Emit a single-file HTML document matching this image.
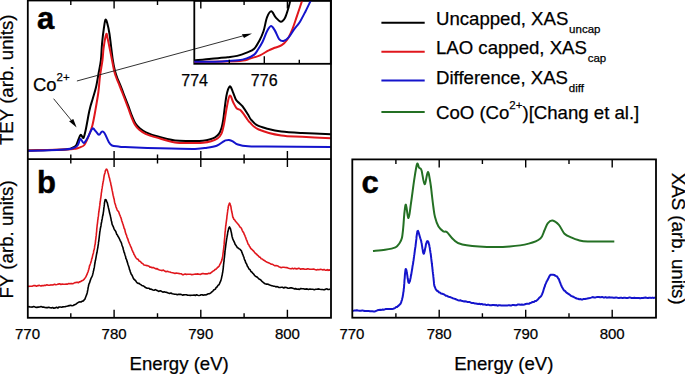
<!DOCTYPE html>
<html><head><meta charset="utf-8"><style>
html,body{margin:0;padding:0;background:#fff;width:685px;height:374px;overflow:hidden}
svg{display:block}
text{font-family:"Liberation Sans",sans-serif;fill:#000;stroke:#000;stroke-width:0.25px}
</style></head><body>
<svg width="685" height="374" viewBox="0 0 685 374">
<rect width="685" height="374" fill="#fff"/>
<defs><clipPath id="ca"><rect x="28" y="0" width="302.8" height="158.8"/></clipPath>
<clipPath id="ci"><rect x="194.3" y="0.8" width="136.5" height="63"/></clipPath>
<clipPath id="cb"><rect x="28" y="158.8" width="302.8" height="158.6"/></clipPath></defs>
<g fill="none" stroke-linejoin="round" stroke-linecap="round" clip-path="url(#ca)">
<path d="M28.0 150.5 C34.2 150.3 57.7 149.8 65.0 149.4 C72.3 149.0 70.2 148.7 72.0 148.0 C73.8 147.3 75.0 146.8 76.0 145.5 C77.0 144.2 77.5 141.8 78.3 140.0 C79.0 138.2 79.8 135.6 80.5 135.0 C81.2 134.4 81.7 136.2 82.2 136.6 C82.7 137.0 83.1 138.8 83.7 137.5 C84.3 136.2 85.1 132.8 85.9 129.0 C86.7 125.2 87.8 118.8 88.5 115.0 C89.2 111.2 89.7 109.2 90.4 106.5 C91.1 103.8 91.9 101.7 92.8 98.5 C93.7 95.3 95.1 91.3 96.0 87.3 C96.9 83.3 97.6 79.0 98.4 74.4 C99.2 69.9 100.3 65.1 100.9 60.0 C101.5 54.9 101.5 49.3 102.0 44.0 C102.5 38.7 103.3 32.0 103.9 28.0 C104.5 24.0 104.9 20.6 105.4 19.8 C106.0 19.0 106.5 20.6 107.2 23.0 C107.9 25.4 108.6 27.8 109.5 34.0 C110.4 40.2 111.9 53.8 112.8 60.0 C113.7 66.2 114.2 67.9 115.0 71.0 C115.8 74.1 116.6 76.2 117.5 78.5 C118.4 80.8 119.0 82.1 120.2 85.0 C121.4 87.9 123.1 92.4 124.5 96.0 C125.9 99.6 127.2 103.1 128.5 106.4 C129.8 109.7 130.8 113.2 132.0 116.0 C133.2 118.8 134.2 121.4 135.5 123.5 C136.8 125.6 138.2 127.0 140.0 128.5 C141.8 130.0 143.2 131.0 146.0 132.3 C148.8 133.6 152.2 134.9 157.0 136.3 C161.8 137.7 168.9 139.7 175.0 140.5 C181.1 141.3 188.8 140.9 193.5 140.9 C198.2 140.9 200.3 140.9 203.0 140.7 C205.7 140.5 207.5 140.1 209.5 139.5 C211.5 138.9 213.5 138.3 215.1 137.3 C216.7 136.3 218.0 135.2 219.1 133.6 C220.2 132.0 220.8 130.3 221.5 128.0 C222.2 125.7 222.4 125.3 223.2 120.0 C224.0 114.7 225.3 101.6 226.4 96.0 C227.5 90.4 228.7 87.1 229.8 86.4 C230.9 85.7 231.8 89.6 232.8 91.8 C233.8 94.0 234.9 97.9 236.0 99.8 C237.1 101.7 238.1 101.9 239.2 103.0 C240.3 104.1 241.0 104.3 242.4 106.2 C243.8 108.1 246.4 112.0 247.8 114.2 C249.2 116.4 249.5 117.8 251.0 119.6 C252.5 121.4 254.3 123.7 257.0 125.2 C259.7 126.7 263.3 127.6 267.4 128.7 C271.4 129.8 275.5 130.9 281.3 131.6 C287.1 132.3 293.9 132.6 302.1 133.0 C310.4 133.4 326.0 134.0 330.8 134.2" stroke="#000000" stroke-width="2"/>
<path d="M28.0 150.5 C34.2 150.3 57.0 149.9 65.0 149.6 C73.0 149.3 73.2 149.1 75.7 148.7 C78.2 148.3 78.6 147.9 80.0 147.3 C81.4 146.7 82.9 146.8 84.3 145.0 C85.7 143.2 87.2 139.6 88.5 136.4 C89.8 133.2 91.2 129.9 92.3 125.7 C93.4 121.5 94.2 116.9 95.2 111.3 C96.2 105.7 97.6 97.9 98.4 92.0 C99.2 86.1 99.3 81.3 100.0 76.0 C100.7 70.7 101.9 64.7 102.5 60.0 C103.1 55.3 103.0 52.3 103.6 48.0 C104.2 43.7 105.5 36.0 106.2 34.3 C106.9 32.6 106.9 35.6 107.5 38.0 C108.1 40.4 109.0 44.8 109.7 48.5 C110.5 52.2 111.2 56.2 112.0 60.0 C112.8 63.8 113.5 68.3 114.3 71.5 C115.1 74.7 115.9 76.7 116.8 79.0 C117.7 81.3 118.3 82.6 119.5 85.5 C120.7 88.4 122.4 92.9 123.8 96.5 C125.2 100.1 126.5 103.6 127.8 107.0 C129.1 110.4 130.1 113.8 131.3 116.7 C132.5 119.6 133.5 122.3 134.8 124.5 C136.1 126.7 137.5 128.2 139.3 129.8 C141.1 131.4 142.6 132.5 145.5 133.8 C148.4 135.1 152.1 136.2 157.0 137.6 C161.9 139.0 168.9 141.6 175.0 142.5 C181.1 143.4 188.8 142.9 193.5 143.0 C198.2 143.1 200.1 143.1 203.0 142.8 C205.9 142.5 208.7 142.0 211.1 141.3 C213.5 140.6 215.8 139.8 217.5 138.5 C219.2 137.2 220.4 136.0 221.5 133.6 C222.6 131.2 223.1 128.5 224.0 124.0 C224.9 119.5 225.9 111.5 226.9 106.7 C227.9 102.0 228.7 96.2 229.8 95.5 C230.9 94.8 232.2 100.4 233.3 102.5 C234.4 104.6 235.4 107.0 236.6 108.3 C237.8 109.5 239.0 108.8 240.3 110.0 C241.6 111.2 243.3 113.6 244.6 115.3 C245.8 117.0 246.9 118.8 247.8 120.0 C248.7 121.2 248.2 121.0 250.0 122.6 C251.8 124.2 253.5 127.3 258.7 129.5 C263.9 131.7 274.1 134.4 281.3 135.6 C288.5 136.8 293.9 136.4 302.1 136.8 C310.4 137.2 326.0 138.0 330.8 138.2" stroke="#e0161c" stroke-width="2"/>
<path d="M28.0 150.8 C34.2 150.6 57.2 149.9 65.0 149.4 C72.8 148.9 72.5 148.3 74.6 147.6 C76.7 146.9 76.8 146.4 77.8 145.0 C78.8 143.6 79.5 139.3 80.5 139.0 C81.5 138.7 82.5 143.2 83.7 143.0 C84.9 142.8 86.1 140.4 87.5 138.0 C88.9 135.6 91.0 129.9 92.3 128.7 C93.6 127.5 94.4 130.0 95.5 131.0 C96.6 132.0 97.9 134.7 99.0 134.8 C100.1 134.9 101.0 131.9 101.9 131.6 C102.8 131.3 103.4 131.4 104.6 133.2 C105.8 135.0 107.7 140.2 108.9 142.3 C110.1 144.4 110.4 144.8 112.0 145.5 C113.6 146.2 116.3 146.2 118.5 146.5 C120.7 146.8 118.1 146.8 125.0 147.1 C131.9 147.4 148.3 148.0 160.0 148.3 C171.7 148.6 187.2 149.0 195.0 148.9 C202.8 148.8 203.5 148.2 207.1 147.7 C210.7 147.2 214.0 146.7 216.7 145.7 C219.4 144.7 221.7 142.6 223.2 141.7 C224.7 140.8 224.6 140.7 225.6 140.4 C226.6 140.1 227.8 139.8 229.0 139.9 C230.2 140.1 231.3 140.5 232.8 141.3 C234.3 142.1 235.4 143.7 237.9 144.5 C240.4 145.3 243.6 146.0 248.1 146.3 C252.6 146.7 251.2 146.5 265.0 146.6 C278.8 146.7 319.8 146.9 330.8 147.0" stroke="#1414cc" stroke-width="2"/>
</g>
<!-- arrows -->
<g stroke="#1a1a1a" stroke-width="0.9" fill="none">
<path d="M76.9 81 L244 35.6"/>
<path d="M53.6 98.7 L71.5 120.5"/>
</g>
<path d="M252 33.4 L241.9 34.2 L244 38 Z" fill="#000"/>
<path d="M76.6 127.6 L69.1 121.2 L73.3 119.1 Z" fill="#000"/>
<!-- inset -->
<rect x="194.3" y="0.8" width="136.5" height="63" fill="none" stroke="#000" stroke-width="1.8"/>
<g fill="none" stroke-linejoin="round" stroke-linecap="round" clip-path="url(#ci)">
<path d="M194.3 60.5 C197.2 60.2 205.9 59.2 211.4 58.7 C216.9 58.2 223.2 57.8 227.5 57.3 C231.8 56.8 233.9 56.7 237.1 55.9 C240.3 55.1 243.8 53.8 246.7 52.6 C249.5 51.4 252.1 50.7 254.2 48.7 C256.3 46.7 257.9 43.4 259.5 40.5 C261.1 37.6 262.2 35.1 263.5 31.3 C264.8 27.4 265.7 20.7 267.0 17.4 C268.3 14.1 269.9 11.3 271.3 11.3 C272.8 11.3 274.1 15.7 275.7 17.4 C277.3 19.1 279.3 21.7 280.9 21.7 C282.5 21.7 283.9 19.8 285.2 17.4 C286.5 14.9 287.7 10.4 288.7 7.0 C289.7 3.6 290.6 -1.3 291.0 -3.0" stroke="#000000" stroke-width="2"/>
<path d="M194.3 61.9 C201.9 61.7 230.7 61.4 240.0 60.9 C249.3 60.4 246.7 59.5 250.0 58.6 C253.3 57.7 256.9 56.7 260.0 55.3 C263.1 53.9 266.2 51.6 268.7 50.4 C271.2 49.1 272.6 48.7 274.8 47.8 C277.0 46.9 279.7 46.5 281.7 45.2 C283.7 43.9 285.2 42.6 287.0 40.0 C288.8 37.4 290.6 33.4 292.2 29.6 C293.8 25.8 295.2 21.2 296.5 17.4 C297.8 13.6 298.9 10.2 300.0 7.0 C301.1 3.8 302.5 -0.5 303.0 -2.0" stroke="#e0161c" stroke-width="2"/>
<path d="M194.3 61.8 C198.9 61.7 214.8 61.6 222.1 61.4 C229.4 61.1 234.1 60.8 238.2 60.3 C242.3 59.8 244.0 59.3 246.7 58.4 C249.4 57.5 252.3 56.1 254.2 54.6 C256.1 53.1 256.6 51.6 258.0 49.5 C259.4 47.4 261.1 44.7 262.6 41.7 C264.1 38.7 265.6 33.9 267.0 31.3 C268.4 28.7 269.7 26.2 271.0 26.1 C272.3 26.0 273.4 28.2 274.8 30.4 C276.2 32.6 277.7 37.4 279.1 39.1 C280.6 40.9 281.9 41.2 283.5 40.9 C285.1 40.6 287.0 39.3 288.7 37.4 C290.4 35.5 292.0 32.2 293.9 29.6 C295.8 27.0 298.1 24.8 300.0 21.7 C301.9 18.6 303.6 15.1 305.6 11.2 C307.6 7.2 310.9 0.2 312.0 -2.0" stroke="#1414cc" stroke-width="2"/>
</g>
<path d="M229.3 63.8V59.8M264.3 63.8V56.3M299.3 63.8V59.8" stroke="#000" stroke-width="1.4" fill="none"/>
<g fill="none" stroke-linejoin="round" clip-path="url(#cb)">
<path d="M28.0 286.1 L28.8 286.4 L29.7 286.2 L30.8 286.3 L32.1 286.3 L33.5 285.6 L35.0 285.5 L36.5 286.2 L38.0 285.6 L39.5 285.4 L41.0 286.1 L42.1 285.5 L43.3 285.8 L44.5 285.3 L45.7 285.4 L46.9 284.8 L48.2 285.2 L49.4 285.3 L50.7 284.9 L52.0 285.0 L53.2 284.9 L54.5 284.2 L55.8 284.8 L57.0 284.5 L58.3 284.1 L59.6 283.8 L60.9 284.5 L62.2 284.0 L63.6 284.2 L64.9 284.2 L66.3 284.0 L67.6 284.1 L68.8 283.5 L70.0 283.8 L71.1 283.4 L72.2 283.7 L73.1 283.6 L74.9 282.6 L76.3 282.4 L77.5 282.2 L78.5 282.7 L79.4 281.9 L80.3 281.7 L81.9 280.8 L83.1 280.3 L84.3 279.1 L85.0 278.1 L85.7 277.1 L86.3 275.8 L86.9 274.7 L87.5 273.0 L88.0 272.0 L88.4 270.5 L88.8 269.2 L89.2 267.5 L89.6 265.6 L89.9 265.2 L90.3 264.1 L90.6 263.2 L91.0 261.9 L91.5 260.2 L91.7 258.8 L92.0 258.5 L92.3 257.2 L92.6 255.8 L92.9 254.4 L93.2 253.9 L93.5 252.7 L93.8 250.4 L94.2 249.7 L94.5 247.9 L94.7 246.1 L95.0 244.7 L95.2 244.1 L95.3 243.1 L95.5 241.1 L95.6 240.5 L95.8 238.8 L95.9 238.2 L96.0 236.6 L96.2 235.9 L96.3 234.7 L96.4 232.9 L96.6 232.1 L96.7 230.1 L96.8 228.6 L96.9 227.8 L97.1 226.0 L97.2 224.9 L97.4 223.8 L97.5 222.8 L97.7 221.1 L97.8 219.7 L98.0 219.2 L98.1 217.4 L98.3 216.7 L98.5 215.4 L98.6 213.6 L98.8 212.4 L99.0 211.2 L99.1 210.1 L99.3 208.8 L99.5 207.5 L99.6 206.3 L99.8 205.4 L100.0 203.7 L100.1 202.4 L100.3 201.5 L100.5 199.8 L100.6 198.6 L100.8 198.0 L101.0 196.2 L101.2 195.0 L101.3 193.2 L101.5 192.3 L101.7 191.2 L101.8 189.5 L102.0 188.9 L102.2 187.7 L102.4 186.0 L102.6 185.4 L102.7 184.1 L102.9 183.3 L103.1 182.0 L103.4 180.7 L103.7 179.0 L104.0 176.6 L104.3 175.0 L104.6 174.0 L105.0 172.9 L105.3 171.0 L105.6 170.2 L106.0 169.7 L106.3 169.1 L106.7 169.3 L107.1 169.8 L107.5 170.8 L107.9 172.3 L108.3 173.5 L108.7 175.1 L109.1 177.2 L109.5 178.0 L109.9 180.1 L110.2 181.3 L110.5 182.1 L110.7 183.2 L111.0 185.1 L111.3 185.8 L111.5 187.0 L111.8 188.6 L112.1 190.2 L112.3 190.9 L112.6 192.4 L112.8 193.6 L113.1 195.2 L113.4 196.2 L113.7 197.9 L114.0 198.6 L114.3 200.0 L114.5 201.6 L114.8 203.0 L115.1 203.8 L115.4 204.7 L115.7 205.6 L116.0 207.0 L116.5 208.1 L117.1 209.8 L117.7 210.8 L118.3 211.2 L118.9 212.4 L119.5 214.3 L119.9 215.1 L120.3 216.3 L120.6 217.0 L121.0 217.9 L121.4 219.3 L121.8 221.0 L122.2 221.8 L122.6 223.2 L123.1 224.6 L123.5 225.9 L123.8 227.0 L124.2 228.6 L124.6 228.9 L124.9 229.9 L125.3 232.1 L125.7 233.2 L126.1 234.5 L126.5 235.1 L126.9 236.8 L127.3 238.0 L127.7 238.5 L128.1 240.1 L128.5 241.3 L129.0 242.4 L129.4 243.5 L129.9 244.5 L130.4 245.8 L130.9 246.9 L131.4 247.9 L131.9 249.6 L132.4 250.5 L132.9 252.1 L133.4 252.4 L133.9 254.2 L134.4 254.9 L135.2 256.5 L135.9 257.6 L136.6 258.6 L137.4 259.2 L138.2 259.4 L139.0 260.9 L140.0 261.2 L140.8 262.0 L141.6 263.0 L142.3 263.4 L143.1 263.9 L144.0 265.0 L145.3 265.2 L147.0 265.6 L149.1 266.3 L149.9 267.1 L150.8 267.0 L151.7 267.6 L152.7 267.5 L153.7 267.6 L154.8 268.3 L155.9 268.9 L157.1 268.6 L158.3 269.6 L159.5 270.0 L160.8 270.3 L162.1 270.6 L163.4 270.1 L164.7 271.1 L166.0 271.7 L167.3 271.2 L168.6 271.7 L169.9 272.0 L171.2 272.5 L172.5 272.7 L173.7 273.0 L175.0 273.5 L176.2 273.0 L177.4 273.2 L178.5 273.4 L179.8 273.6 L181.1 273.7 L182.4 274.7 L183.7 274.6 L185.1 273.9 L186.4 274.4 L187.8 274.3 L189.1 274.3 L190.4 274.3 L191.8 274.6 L193.1 274.5 L194.3 274.3 L195.6 274.1 L196.8 274.1 L198.0 273.9 L199.2 274.3 L200.3 274.4 L201.3 274.0 L202.3 273.6 L203.3 273.6 L204.2 273.7 L205.0 273.9 L207.1 273.9 L208.7 273.3 L209.9 273.5 L210.7 273.0 L211.5 272.3 L212.4 271.6 L213.4 270.9 L214.2 270.5 L215.0 269.6 L215.8 269.3 L216.7 268.5 L217.5 267.5 L218.3 267.0 L219.1 266.2 L219.9 264.4 L220.6 263.3 L221.3 261.6 L221.9 260.1 L222.1 259.3 L222.3 257.8 L222.5 257.4 L222.7 256.3 L222.9 254.6 L223.0 253.7 L223.2 252.2 L223.3 251.6 L223.5 250.2 L223.6 249.1 L223.8 247.7 L223.9 246.2 L224.1 244.9 L224.2 243.4 L224.3 241.5 L224.4 240.6 L224.6 238.6 L224.7 237.4 L224.8 236.6 L224.9 234.5 L225.0 233.2 L225.1 231.9 L225.3 231.4 L225.4 229.4 L225.5 228.0 L225.6 227.7 L225.7 225.8 L225.9 225.4 L226.0 224.2 L226.1 223.4 L226.3 221.8 L226.6 219.7 L226.8 218.2 L227.0 215.7 L227.2 214.8 L227.4 213.0 L227.6 211.7 L227.8 209.7 L228.0 209.0 L228.2 208.0 L228.4 206.1 L228.7 205.4 L228.9 204.8 L229.1 204.5 L229.3 203.4 L229.5 203.1 L229.8 203.2 L230.1 204.0 L230.4 205.0 L230.7 205.8 L231.0 207.2 L231.2 208.8 L231.5 210.4 L231.8 212.1 L232.2 213.4 L232.5 215.3 L232.8 217.0 L233.1 217.4 L233.9 219.4 L234.7 219.9 L235.5 221.3 L236.4 222.2 L237.3 223.3 L237.9 224.0 L238.6 224.8 L239.3 225.9 L240.0 227.1 L240.7 227.4 L241.4 228.4 L242.2 230.3 L243.0 231.9 L243.5 232.4 L243.9 233.3 L244.3 234.6 L244.8 235.2 L245.2 236.5 L245.7 237.6 L246.2 239.2 L246.6 240.1 L247.1 241.2 L247.7 242.9 L248.2 244.3 L248.8 244.7 L249.4 246.2 L250.0 246.9 L250.7 248.4 L251.5 249.1 L252.2 249.7 L253.1 250.6 L253.9 251.4 L254.7 252.7 L255.6 253.5 L256.5 254.1 L257.4 255.1 L258.4 255.9 L259.3 257.1 L260.2 257.2 L261.2 258.8 L262.3 259.0 L263.3 259.9 L264.4 260.4 L265.5 261.4 L266.7 262.0 L267.8 262.4 L269.0 262.9 L270.2 263.6 L271.4 264.3 L272.6 264.3 L273.8 265.1 L275.0 265.8 L276.1 265.6 L277.0 265.7 L278.0 266.0 L278.8 266.8 L279.7 267.0 L280.6 267.5 L281.6 267.6 L282.7 267.2 L283.9 267.3 L285.2 267.5 L286.8 267.6 L288.5 268.3 L290.5 268.7 L291.4 268.8 L292.3 268.2 L293.4 268.9 L294.4 268.4 L295.6 268.6 L296.8 268.9 L298.0 268.4 L299.3 268.4 L300.7 269.2 L302.0 268.8 L303.4 268.9 L304.9 269.2 L306.3 269.3 L307.7 268.7 L309.2 269.1 L310.6 269.2 L312.1 269.3 L313.5 269.1 L315.0 269.6 L316.4 270.0 L317.7 269.5 L319.1 269.7 L320.4 269.3 L321.7 269.5 L322.9 269.9 L324.0 269.4 L325.2 270.2 L326.2 270.3 L327.2 269.5 L328.1 270.4 L328.9 269.8 L329.7 270.2 L330.3 270.0" stroke="#e0161c" stroke-width="1.6"/>
<path d="M28.0 307.1 L28.8 306.6 L29.8 307.0 L31.0 307.0 L32.3 307.1 L33.7 306.6 L35.2 307.1 L36.7 307.4 L38.2 307.1 L39.6 307.0 L41.0 306.6 L42.3 307.1 L43.6 307.0 L44.9 307.5 L46.2 307.6 L47.5 307.6 L48.8 307.3 L50.1 307.8 L51.3 307.9 L52.6 307.5 L53.8 308.2 L55.1 307.9 L56.5 307.3 L57.8 308.0 L59.1 307.0 L60.4 307.0 L61.6 307.2 L62.8 306.9 L64.0 306.7 L65.1 306.6 L66.6 306.3 L68.1 305.9 L69.4 305.6 L70.7 305.3 L71.9 305.7 L73.1 305.5 L74.5 304.7 L75.9 304.2 L77.2 303.1 L78.4 302.3 L79.5 301.9 L81.0 302.0 L82.3 301.1 L83.5 300.9 L84.2 299.8 L84.9 299.2 L85.5 297.5 L86.1 296.0 L86.7 294.4 L87.0 293.4 L87.3 292.5 L87.6 290.7 L87.8 289.9 L88.1 287.8 L88.4 286.5 L88.7 285.0 L89.1 283.6 L89.5 283.1 L89.9 281.8 L90.4 280.1 L90.9 278.8 L91.3 277.8 L91.8 276.9 L92.3 275.7 L92.7 274.4 L93.1 272.9 L93.4 271.2 L93.7 270.3 L93.9 268.8 L94.2 267.9 L94.4 266.7 L94.6 265.1 L94.8 263.8 L95.0 263.0 L95.3 260.9 L95.5 260.3 L95.7 259.2 L95.9 258.1 L96.2 256.3 L96.4 255.2 L96.6 254.0 L96.9 252.8 L97.1 251.8 L97.3 250.3 L97.6 248.6 L97.8 247.8 L98.0 246.2 L98.2 245.0 L98.4 243.9 L98.5 242.0 L98.7 241.6 L98.9 240.2 L99.0 238.8 L99.2 237.6 L99.3 236.3 L99.5 234.8 L99.6 234.0 L99.8 232.2 L99.9 231.5 L100.1 230.4 L100.3 229.0 L100.5 227.9 L100.7 227.0 L101.0 225.7 L101.2 223.7 L101.4 223.1 L101.7 221.7 L101.9 219.9 L102.2 218.9 L102.4 217.6 L102.6 216.2 L102.9 215.4 L103.1 214.5 L103.3 212.6 L103.5 211.6 L103.7 209.9 L103.9 207.7 L104.1 206.7 L104.3 204.9 L104.4 203.7 L104.6 202.2 L104.9 201.1 L105.1 199.8 L105.3 199.7 L105.6 199.6 L105.9 199.8 L106.2 199.9 L106.6 201.2 L107.0 202.1 L107.4 203.1 L107.7 204.6 L108.1 206.2 L108.5 208.0 L108.9 209.6 L109.3 211.5 L109.6 213.1 L109.9 214.1 L110.3 215.4 L110.6 217.0 L110.8 217.9 L111.1 219.3 L111.3 220.8 L111.6 221.5 L111.8 222.5 L112.1 224.3 L112.5 225.2 L113.0 226.1 L113.5 227.3 L114.0 228.6 L114.5 229.8 L115.1 230.5 L115.7 231.4 L116.2 232.7 L116.8 234.4 L117.3 234.8 L117.9 236.2 L118.4 236.9 L119.0 238.0 L119.5 239.0 L120.1 240.3 L120.6 241.3 L121.2 242.5 L121.6 243.6 L121.9 244.7 L122.3 246.0 L122.6 246.7 L123.0 247.8 L123.3 249.4 L123.7 250.6 L124.0 252.1 L124.4 252.7 L124.8 254.3 L125.2 255.6 L125.6 256.5 L125.9 258.6 L126.3 258.9 L126.7 260.0 L127.1 261.6 L127.5 262.6 L127.9 264.3 L128.3 265.3 L128.7 266.4 L129.1 267.6 L129.5 269.5 L129.9 270.2 L130.3 271.8 L130.7 272.6 L131.1 274.0 L131.5 274.3 L132.2 275.7 L132.8 277.0 L133.5 278.6 L134.1 279.4 L134.8 280.0 L135.5 280.5 L136.4 281.9 L137.4 283.1 L138.3 283.4 L139.1 283.4 L139.9 284.1 L140.8 284.7 L141.8 285.4 L142.9 285.8 L144.1 286.4 L145.5 287.5 L147.2 288.3 L149.1 288.2 L150.0 289.2 L150.9 289.0 L151.9 289.6 L153.0 290.0 L154.1 290.3 L155.3 289.6 L156.5 290.2 L157.7 290.8 L159.0 291.4 L160.2 290.8 L161.5 291.3 L162.9 292.2 L164.2 291.7 L165.6 292.2 L166.9 292.4 L168.3 293.0 L169.6 293.5 L170.9 293.0 L172.3 293.8 L173.6 294.0 L174.8 294.3 L176.1 294.2 L177.3 294.7 L178.5 294.3 L179.8 294.4 L181.1 294.4 L182.4 295.1 L183.7 294.9 L185.0 294.7 L186.4 294.7 L187.7 295.3 L189.0 295.3 L190.3 295.4 L191.6 295.2 L192.9 295.3 L194.2 295.0 L195.4 295.5 L196.6 294.8 L197.8 295.2 L199.0 295.5 L200.1 295.3 L201.2 294.7 L202.2 294.7 L203.2 295.2 L204.1 294.9 L205.0 295.0 L206.8 294.6 L208.3 293.7 L209.7 293.6 L210.8 292.8 L211.9 291.8 L212.9 291.1 L213.7 290.0 L214.6 289.5 L215.4 289.1 L216.2 287.4 L217.0 287.0 L217.7 285.8 L218.4 285.0 L218.9 284.8 L219.5 283.6 L220.0 282.4 L220.5 281.3 L220.9 280.4 L221.4 278.6 L221.9 276.0 L222.1 275.4 L222.2 275.2 L222.4 273.5 L222.6 272.8 L222.8 271.5 L222.9 270.7 L223.1 269.3 L223.2 268.3 L223.4 266.7 L223.5 265.1 L223.7 263.7 L223.8 262.2 L224.0 261.6 L224.1 259.5 L224.3 258.1 L224.4 257.6 L224.6 255.5 L224.7 254.8 L224.9 252.7 L225.0 251.7 L225.1 250.2 L225.3 249.6 L225.4 248.1 L225.6 247.0 L225.7 246.0 L225.8 245.1 L226.0 243.6 L226.1 242.9 L226.4 240.9 L226.7 238.7 L226.9 237.7 L227.2 235.9 L227.5 234.5 L227.7 232.5 L228.0 231.6 L228.2 230.3 L228.5 229.6 L228.7 228.2 L229.0 227.8 L229.2 227.5 L229.5 226.9 L229.8 227.5 L230.1 228.2 L230.5 228.8 L230.8 230.2 L231.1 231.6 L231.4 232.7 L231.7 234.5 L232.1 236.7 L232.4 237.5 L232.7 238.9 L233.1 239.6 L233.8 241.2 L234.5 242.5 L235.2 244.5 L235.9 245.3 L236.6 246.4 L237.3 247.5 L238.3 248.1 L239.2 248.9 L240.2 249.4 L241.5 251.1 L241.9 252.4 L242.3 253.3 L242.6 254.3 L243.0 254.9 L243.4 256.3 L243.9 257.2 L244.3 259.0 L244.8 260.2 L245.2 260.8 L245.7 262.7 L246.2 263.3 L246.8 264.4 L247.4 266.2 L248.0 266.9 L248.6 268.1 L249.3 269.3 L250.1 269.7 L250.9 271.5 L251.8 272.0 L252.6 273.1 L253.6 274.0 L254.5 275.3 L255.4 276.3 L256.4 276.7 L257.4 277.3 L258.3 278.3 L259.3 279.2 L260.3 279.6 L261.2 280.4 L262.3 281.7 L263.2 282.3 L264.2 283.2 L265.1 283.7 L266.1 284.1 L267.1 284.0 L268.1 284.2 L269.2 284.8 L270.4 285.3 L271.8 285.7 L273.3 286.1 L275.0 286.3 L275.9 286.9 L276.9 286.5 L278.0 286.9 L279.0 287.5 L280.2 287.5 L281.3 287.2 L282.5 287.3 L283.8 288.0 L285.0 287.3 L286.3 287.5 L287.6 288.1 L288.9 288.2 L290.3 287.9 L291.6 287.9 L292.9 288.2 L294.3 288.9 L295.6 288.6 L296.9 289.2 L298.2 289.1 L299.5 289.4 L300.8 288.5 L302.0 288.8 L303.2 288.7 L304.4 289.1 L305.7 289.1 L307.1 288.9 L308.5 289.4 L309.9 289.0 L311.4 289.2 L312.8 289.2 L314.3 289.7 L315.7 289.3 L317.1 289.2 L318.5 288.9 L319.9 289.3 L321.2 289.5 L322.5 289.5 L323.7 289.7 L324.9 289.6 L326.0 289.0 L327.0 288.9 L328.0 289.5 L328.9 289.5 L329.6 289.2 L330.3 289.2" stroke="#000000" stroke-width="1.6"/>
</g>
<g fill="none" stroke-linejoin="round">
<path d="M373.0 250.9 C375.0 250.7 381.4 250.3 385.1 249.7 C388.9 249.1 393.1 248.4 395.5 247.3 C397.9 246.2 398.4 244.8 399.5 243.2 C400.6 241.6 401.3 240.5 401.9 238.0 C402.5 235.5 402.8 232.0 403.2 228.0 C403.6 224.0 403.9 217.9 404.3 214.0 C404.8 210.1 405.2 204.0 405.9 204.7 C406.6 205.4 407.6 218.3 408.5 218.0 C409.4 217.7 410.0 209.6 411.0 203.1 C412.0 196.6 413.3 185.6 414.3 179.1 C415.3 172.6 416.3 165.9 417.1 164.0 C417.9 162.1 418.4 166.8 419.1 167.8 C419.8 168.8 420.6 167.5 421.5 170.2 C422.4 172.9 423.5 183.9 424.6 184.2 C425.7 184.5 426.9 172.3 427.9 172.0 C428.8 171.7 429.6 178.5 430.3 182.3 C431.0 186.1 431.4 190.7 431.9 195.0 C432.4 199.3 433.0 204.3 433.5 208.0 C434.0 211.7 434.2 213.9 435.0 217.0 C435.8 220.1 437.1 224.2 438.5 226.6 C439.9 229.0 441.9 230.4 443.3 231.3 C444.7 232.2 445.4 230.9 447.1 232.3 C448.8 233.7 451.2 237.8 453.7 239.8 C456.2 241.9 456.8 243.4 462.3 244.6 C467.8 245.8 479.0 246.6 486.9 246.9 C494.8 247.2 502.7 247.1 509.7 246.5 C516.7 245.9 523.6 244.9 528.7 243.6 C533.8 242.3 537.8 240.7 540.4 238.5 C543.0 236.3 543.2 233.0 544.4 230.5 C545.6 228.0 546.4 225.0 547.7 223.3 C549.1 221.6 550.6 220.2 552.5 220.5 C554.4 220.8 556.9 222.7 558.9 224.9 C560.9 227.1 562.4 231.6 564.5 233.7 C566.6 235.8 569.4 236.6 571.7 237.7 C574.0 238.8 575.5 239.5 578.2 240.1 C580.9 240.7 581.8 241.2 587.8 241.4 C593.8 241.6 609.9 241.4 614.3 241.4" stroke="#247024" stroke-width="2"/>
<path d="M352.2 311.1 L353.0 310.9 L354.0 310.6 L355.3 310.4 L356.7 310.2 L358.1 310.5 L359.6 310.7 L361.1 310.7 L362.3 310.4 L363.5 310.7 L364.8 311.0 L366.1 311.1 L367.4 311.1 L368.7 311.1 L370.0 311.3 L371.2 311.2 L372.3 311.2 L373.8 311.4 L375.0 311.4 L376.2 310.8 L377.4 310.3 L378.7 310.0 L380.3 309.8 L381.4 309.9 L382.7 309.5 L384.1 309.7 L385.5 309.1 L386.9 309.1 L388.4 309.1 L389.8 308.9 L391.1 309.1 L392.2 308.9 L393.2 308.8 L395.0 308.1 L396.2 307.1 L397.1 306.9 L398.0 306.1 L398.9 305.4 L399.8 304.5 L400.5 303.8 L401.2 302.4 L401.5 301.0 L401.8 300.4 L402.1 299.2 L402.3 298.2 L402.6 297.3 L402.8 296.0 L403.1 294.3 L403.3 292.4 L403.6 291.2 L403.7 289.7 L403.8 288.7 L404.0 287.7 L404.1 285.9 L404.2 284.4 L404.3 283.4 L404.4 281.8 L404.5 279.8 L404.7 278.3 L404.8 276.7 L404.9 275.1 L405.0 273.9 L405.1 273.1 L405.3 271.4 L405.4 270.5 L405.5 269.7 L405.7 269.0 L405.8 269.0 L406.0 269.2 L406.3 269.9 L406.6 271.0 L406.8 272.8 L407.1 274.1 L407.4 276.2 L407.7 278.6 L408.0 279.8 L408.2 281.4 L408.5 282.6 L408.8 282.8 L409.1 282.9 L409.4 282.1 L409.7 281.4 L410.0 280.9 L410.3 279.0 L410.6 278.0 L410.9 275.9 L411.2 274.8 L411.5 272.8 L411.8 271.1 L412.0 269.8 L412.2 268.7 L412.3 268.1 L412.5 266.5 L412.7 265.3 L412.9 264.5 L413.1 263.3 L413.3 261.4 L413.5 260.7 L413.7 259.1 L413.9 257.7 L414.1 256.2 L414.2 255.1 L414.4 254.2 L414.6 252.5 L414.8 251.1 L414.9 250.0 L415.1 248.8 L415.3 247.5 L415.5 246.4 L415.7 244.3 L415.9 242.8 L416.0 241.8 L416.2 240.3 L416.4 238.9 L416.5 237.0 L416.7 235.7 L416.8 235.0 L417.0 233.6 L417.2 232.8 L417.3 231.8 L417.5 231.1 L418.0 230.9 L418.5 232.1 L419.0 233.8 L419.5 235.6 L419.9 237.0 L420.3 238.3 L420.7 239.4 L421.1 240.8 L421.5 242.8 L421.7 243.5 L421.9 245.1 L422.2 246.9 L422.4 248.4 L422.7 249.5 L422.9 251.5 L423.2 252.7 L423.4 253.1 L423.6 253.7 L424.0 253.5 L424.4 251.9 L424.8 250.6 L425.2 248.2 L425.5 247.3 L425.8 245.3 L426.1 243.8 L426.5 243.0 L426.8 241.8 L427.1 241.3 L427.7 241.1 L428.4 242.1 L429.0 244.5 L429.2 244.9 L429.4 246.2 L429.6 247.1 L429.8 248.1 L430.0 249.7 L430.2 250.8 L430.4 252.4 L430.7 253.8 L430.9 255.3 L431.1 257.0 L431.2 258.2 L431.4 259.6 L431.5 260.8 L431.7 262.0 L431.8 263.3 L432.0 264.2 L432.1 266.1 L432.3 267.0 L432.4 268.3 L432.6 269.9 L432.7 271.4 L432.9 272.4 L433.0 273.9 L433.2 274.8 L433.3 276.4 L433.4 277.1 L433.5 278.0 L433.7 280.2 L433.9 282.0 L434.0 283.4 L434.1 284.1 L434.2 285.1 L434.5 286.2 L435.0 287.2 L435.5 288.7 L436.3 290.0 L437.3 291.0 L438.1 291.2 L438.9 292.3 L439.9 292.6 L441.0 293.6 L442.3 293.8 L444.0 294.4 L444.9 295.0 L445.8 295.7 L446.9 295.8 L447.9 296.5 L449.1 296.9 L450.2 297.1 L451.4 297.6 L452.7 298.2 L454.0 298.6 L455.3 299.0 L456.6 299.6 L457.9 300.2 L459.2 300.4 L460.3 300.3 L461.4 300.7 L462.5 301.0 L463.7 301.4 L464.9 301.3 L466.1 301.5 L467.3 301.9 L468.5 302.1 L469.8 302.1 L471.0 302.7 L472.2 303.1 L473.4 303.0 L474.6 303.4 L475.8 303.6 L477.0 303.8 L478.1 304.0 L479.4 303.8 L480.6 304.2 L481.8 303.9 L483.0 304.6 L484.2 304.4 L485.4 304.6 L486.5 305.1 L487.7 304.8 L488.9 304.8 L490.1 305.3 L491.3 305.3 L492.6 305.0 L493.9 305.0 L495.2 305.3 L496.3 305.1 L497.5 305.7 L498.7 305.3 L500.0 305.3 L501.2 305.4 L502.5 305.5 L503.8 305.4 L505.1 305.5 L506.4 305.5 L507.7 305.4 L509.0 305.1 L510.3 305.6 L511.5 305.4 L512.7 304.9 L513.9 305.1 L515.0 305.3 L516.1 305.3 L517.6 304.6 L519.0 304.4 L520.4 304.7 L521.8 304.5 L523.1 304.7 L524.4 304.5 L525.7 304.0 L526.9 303.8 L528.0 303.7 L529.2 303.7 L530.3 302.9 L531.3 302.7 L532.6 302.0 L533.9 301.9 L535.0 300.9 L536.1 300.9 L537.2 300.0 L538.1 299.2 L539.0 298.1 L539.9 297.3 L540.7 296.5 L541.3 295.8 L541.9 294.6 L542.4 293.3 L542.8 292.6 L543.2 291.2 L543.6 289.8 L544.0 288.4 L544.4 287.2 L544.8 286.5 L545.1 284.9 L545.5 284.2 L546.1 282.9 L546.7 281.4 L547.3 280.5 L547.8 279.5 L548.3 278.5 L548.8 277.5 L549.3 276.4 L550.6 274.7 L552.1 274.7 L553.1 274.7 L554.2 274.9 L555.5 275.9 L556.7 276.2 L557.8 277.7 L558.4 278.7 L558.9 279.1 L559.4 280.9 L559.8 281.8 L560.3 283.0 L560.8 284.3 L561.3 285.5 L561.9 287.0 L562.5 287.9 L563.3 289.4 L564.1 290.5 L565.0 290.9 L565.9 292.0 L566.9 292.9 L568.0 293.6 L569.2 294.4 L570.1 295.0 L571.1 295.9 L572.1 296.3 L573.2 296.7 L574.3 297.3 L575.5 298.0 L576.7 298.5 L577.9 298.7 L579.2 299.3 L580.5 299.1 L581.6 299.5 L582.7 299.4 L583.8 298.9 L584.9 299.1 L586.1 298.7 L587.3 298.5 L588.5 298.2 L589.8 298.0 L591.1 297.6 L592.6 297.1 L594.1 297.4 L595.7 297.4 L596.7 297.1 L597.7 297.1 L598.8 296.9 L599.9 297.3 L601.0 297.2 L602.1 296.9 L603.2 297.4 L604.4 297.5 L605.6 297.1 L606.8 297.7 L608.0 297.4 L609.3 297.2 L610.6 297.6 L611.9 297.4 L613.3 297.8 L614.6 297.7 L616.0 297.4 L617.5 297.8 L618.9 298.0 L620.4 297.8 L621.5 297.8 L622.6 298.1 L623.8 297.8 L625.0 297.8 L626.3 297.9 L627.6 298.1 L628.9 297.6 L630.3 297.6 L631.7 298.0 L633.1 297.9 L634.5 297.7 L635.9 298.1 L637.4 298.1 L638.8 297.9 L640.2 298.2 L641.6 298.1 L642.9 298.0 L644.3 297.7 L645.6 297.5 L646.9 297.9 L648.1 298.0 L649.2 297.7 L650.3 297.8 L651.4 297.9 L652.4 297.6 L653.3 297.9 L654.1 297.8 L654.8 297.7 L655.5 297.8" stroke="#1414cc" stroke-width="2"/>
</g>
<!-- frames -->
<g fill="none" stroke="#000" stroke-width="1.8">
<rect x="27.8" y="0.5" width="303.2" height="317.3"/>
<path d="M27.8 159.1H331"/>
<rect x="352.3" y="159.4" width="303.7" height="158.3"/>
<path d="M70.8 0.5V5.0M114.1 0.5V8.5M157.5 0.5V5.0M200.8 0.5V8.5M244.1 0.5V5.0M287.4 0.5V8.5M70.8 154.6V163.6M114.1 151.1V167.1M157.5 154.6V163.6M200.8 151.1V167.1M244.1 154.6V163.6M287.4 151.1V167.1M70.8 317.8V313.3M114.1 317.8V309.8M157.5 317.8V313.3M200.8 317.8V309.8M244.1 317.8V313.3M287.4 317.8V309.8M395.9 159.4V163.9M439.2 159.4V167.4M482.4 159.4V163.9M525.7 159.4V167.4M569.0 159.4V163.9M612.2 159.4V167.4M395.9 317.7V313.2M439.2 317.7V309.7M482.4 317.7V313.2M525.7 317.7V309.7M569.0 317.7V313.2M612.2 317.7V309.7" stroke-width="1.4"/>
</g>
<!-- labels -->
<text x="37" y="29" font-size="31" font-weight="bold" style="stroke-width:0.45px">a</text>
<text x="37" y="192.5" font-size="31" font-weight="bold" style="stroke-width:0.45px">b</text>
<text x="361.5" y="192.7" font-size="31" font-weight="bold" style="stroke-width:0.45px">c</text>
<text x="33" y="91.2" font-size="18.4">Co<tspan font-size="11.5" dy="-10.5">2+</tspan></text>
<text x="194.6" y="85.8" font-size="16" text-anchor="middle">774</text>
<text x="264.2" y="85.8" font-size="16" text-anchor="middle">776</text>
<g font-size="15" text-anchor="middle">
<text x="27.5" y="338.9">770</text><text x="114.1" y="338.9">780</text><text x="200.8" y="338.9">790</text><text x="287.4" y="338.9">800</text>
<text x="351.9" y="338.9">770</text><text x="439.2" y="338.9">780</text><text x="525.7" y="338.9">790</text><text x="612.2" y="338.9">800</text>
</g>
<text x="179.2" y="369.5" font-size="18.6" text-anchor="middle">Energy (eV)</text>
<text x="503.8" y="369.5" font-size="18.6" text-anchor="middle">Energy (eV)</text>
<text transform="translate(13.3 79.8) rotate(-90)" font-size="18.7" text-anchor="middle">TEY (arb. units)</text>
<text transform="translate(13.3 239.4) rotate(-90)" font-size="18.7" text-anchor="middle">FY (arb. units)</text>
<text transform="translate(671.6 238.7) rotate(90)" font-size="18.7" text-anchor="middle">XAS (arb. units)</text>
<!-- legend -->
<g stroke-width="2">
<path d="M381.4 22.7H424.7" stroke="#000000"/>
<path d="M381.4 51.7H424.7" stroke="#e0161c"/>
<path d="M381.4 80.6H424.7" stroke="#1414cc"/>
<path d="M381.4 111.9H424.7" stroke="#247024"/>
</g>
<g font-size="18.6">
<text x="436" y="25">Uncapped, XAS<tspan font-size="11.5" dy="8" dx="0.8">uncap</tspan></text>
<text x="436" y="54">LAO capped, XAS<tspan font-size="11.5" dy="8" dx="0.8">cap</tspan></text>
<text x="436" y="84.1">Difference, XAS<tspan font-size="11.5" dy="8" dx="0.8">diff</tspan></text>
<text x="436" y="119.2">CoO (Co<tspan font-size="11.5" dy="-10.5">2+</tspan><tspan dy="10.5">)[Chang et al.]</tspan></text>
</g>
</svg>
</body></html>
